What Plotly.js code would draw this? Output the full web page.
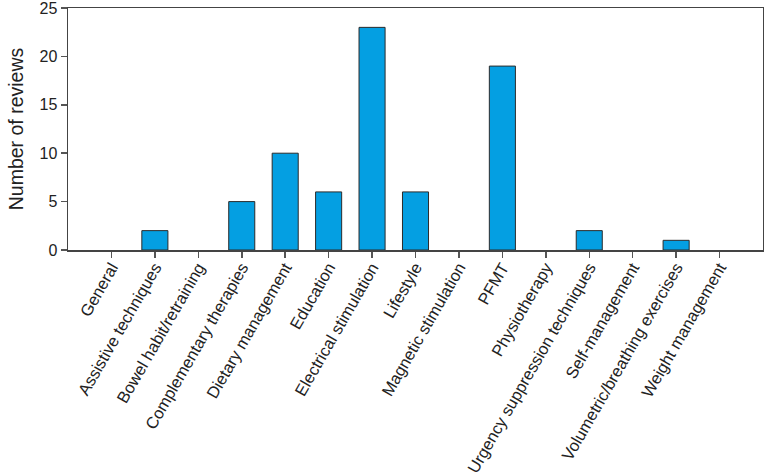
<!DOCTYPE html>
<html>
<head>
<meta charset="utf-8">
<script src="https://cdn.plot.ly/plotly-3.0.1.min.js"></script>
<style>
  html, body { margin: 0; padding: 0; background: #fff; }
  #plot { width: 764px; height: 475px; }
</style>
</head>
<body>
<div id="plot"></div>
<script>
// intervention categories along the x axis
let categories = [
    "General",
    "Assistive techniques",
    "Bowel habit/retraining",
    "Complementary therapies",
    "Dietary management",
    "Education",
    "Electrical stimulation",
    "Lifestyle",
    "Magnetic stimulation",
    "PFMT",
    "Physiotherapy",
    "Urgency suppression techniques",
    "Self-management",
    "Volumetric/breathing exercises",
    "Weight management"
]

// number of reviews per category
let reviews = [0, 2, 0, 5, 10, 6, 23, 6, 0, 19, 0, 2, 0, 1, 0]

let yTicks = [0, 5, 10, 15, 20, 25]

// empty categories get no outline (otherwise a flat line is drawn)
let outlineWidths = reviews.map(v => v > 0 ? 1 : 0)

let trace = {
    x: categories,
    y: reviews,
    type: "bar",
    width: 0.6,
    marker: {
        color: "#049fe2",
        line: { color: "#2b2b2b", width: outlineWidths }
    },
    hoverinfo: "x+y"
}

let layout = {
    width: 764,
    height: 475,
    margin: { l: 68, r: 1, t: 8, b: 225 },
    paper_bgcolor: "#fff",
    plot_bgcolor: "#fff",
    showlegend: false,
    font: { family: "Liberation Sans, Arial, sans-serif", color: "#222", size: 15 },
    xaxis: {
        type: "category",
        range: [-1, 15],
        tickangle: -60,
        ticks: "outside",
        ticklen: 6,
        tickcolor: "#555",
        tickwidth: 1.5,
        tickfont: { size: 16.5, color: "#222" },
        ticklabelstandoff: -6,
        showline: true,
        linecolor: "#444",
        linewidth: 1.5,
        mirror: true,
        showgrid: false,
        zeroline: false
    },
    yaxis: {
        range: [0, 25],
        tickvals: yTicks,
        ticks: "outside",
        ticklen: 6,
        tickcolor: "#555",
        tickwidth: 1.5,
        tickfont: { size: 16, color: "#222" },
        ticklabeloverflow: "allow",
        showline: true,
        linecolor: "#444",
        linewidth: 1.5,
        mirror: true,
        showgrid: false,
        zeroline: false,
        title: { text: "Number of reviews", font: { size: 19.5, color: "#222" }, standoff: 10 }
    }
}

Plotly.newPlot("plot", [trace], layout, { displayModeBar: false, staticPlot: true });
</script>
</body>
</html>
